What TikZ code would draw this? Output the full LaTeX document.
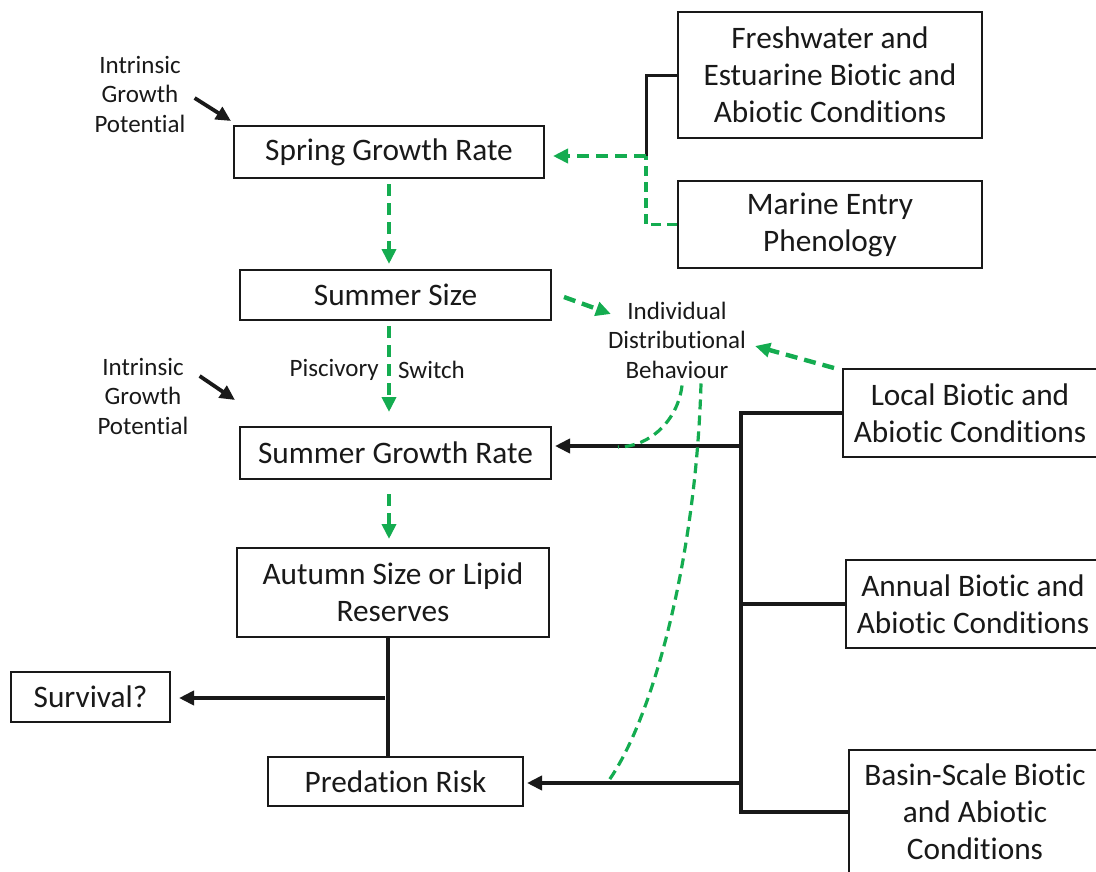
\documentclass[tikz,border=0pt]{standalone}
\usepackage{fontspec}
\setmainfont{Carlito}[Ligatures=NoCommon]
\usetikzlibrary{arrows.meta,calc}
\definecolor{leafgreen}{RGB}{20,172,80}
\definecolor{ink}{RGB}{25,25,25}

\begin{document}
\begin{tikzpicture}[x=1pt,y=-1pt,>={Triangle[length=15pt,width=14pt]},
	box/.style={draw=ink, line width=2pt, align=center, inner sep=0pt, text=ink,
		font=\fontsize{31.3}{37}\selectfont},
	lbl/.style={align=center, inner sep=0pt, text=ink, font=\fontsize{25}{29.5}\selectfont},
	link/.style={draw=ink, line width=3.8pt},
	grn/.style={draw=leafgreen, line width=4.4pt, dash pattern=on 12pt off 7pt},
	grnthin/.style={draw=leafgreen, line width=3.2pt, dash pattern=on 10pt off 6pt}]
	
	\useasboundingbox (0,0) rectangle (1096,871);
	\clip (0,0) rectangle (1096,871);
	
	% --- Growth and size chain (left column)
	\node[box, minimum width=310, minimum height=52] (spring) at (389,152) {Spring Growth Rate};
	\node[box, minimum width=311, minimum height=50] (ssize) at (395.5,295) {Summer Size};
	\node[box, minimum width=311, minimum height=52] (sgrowth) at (395.5,453) {Summer Growth Rate};
	\node[box, minimum width=312, minimum height=89] (autumn) at (393,592.5) {Autumn Size or Lipid\\Reserves};
	\node[box, minimum width=255, minimum height=49] (predation) at (395.5,781.5) {Predation Risk};
	\node[box, minimum width=159, minimum height=50] (survival) at (90.5,697) {Survival?};
	
	% --- Conditions (right column)
	\node[box, minimum width=304, minimum height=126] (fresh) at (830,75) {Freshwater and\\Estuarine Biotic and\\Abiotic Conditions};
	\node[box, minimum width=304, minimum height=87] (marine) at (830,224.5) {Marine Entry\\Phenology};
	\node[box, minimum width=254, minimum height=88] (local) at (970,413) {Local Biotic and\\Abiotic Conditions};
	\node[box, minimum width=254, minimum height=88] (annual) at (973,604) {Annual Biotic and\\Abiotic Conditions};
	\node[box, minimum width=252, minimum height=124] (basin) at (975,812) {Basin-Scale Biotic\\and Abiotic\\Conditions};
	
	% --- Free labels
	\node[lbl] (intrA) at (140,94) {Intrinsic\\Growth\\Potential};
	\node[lbl] (intrB) at (143,396) {Intrinsic\\Growth\\Potential};
	\node[lbl, anchor=east] (pisc) at (379,370) {Piscivory};
	\node[lbl, anchor=west] (switch) at (398,370) {Switch};
	\node[lbl] (idb) at (677,340) {Individual\\Distributional\\Behaviour};
	
	% --- Intrinsic growth potential arrows
	\draw[link, ->] ($(intrA.east)+(9,4)$) -- ($(spring.north west)+(-2,-4)$);
	\draw[link, ->] ($(intrB.east)+(11,-20)$) -- ($(sgrowth.north west)+(-4,-26)$);
	
	% --- Green chain down the left column
	\draw[grn, ->, shorten <=5pt, shorten >=5pt] (spring.south) -- (spring.south |- ssize.north);
	\draw[grn, ->, shorten <=5pt, shorten >=14pt] (spring.south |- ssize.south) -- (spring.south |- sgrowth.north);
	\draw[grn, ->, shorten <=14pt, shorten >=8pt] (spring.south |- sgrowth.south) -- (spring.south |- autumn.north);
	
	% --- Freshwater / marine entry feeding spring growth
	\coordinate (fj) at (646,156);
	\draw[link, line width=3pt] (fresh.west) -| (fj);
	\draw[grnthin] (marine.west) -| (fj);
	\draw[grn, ->, shorten >=8pt] (fj) -- (spring.east |- fj);
	
	% --- Individual distributional behaviour
	\draw[grn, ->] ($(ssize.east)+(12,2)$) -- ($(idb.west)+(3,-26)$);
	\draw[grn, ->] ($(local.north west)+(-8,0)$) -- ($(idb.east)+(9,6)$);
	
	% --- Bus from the condition boxes
	\coordinate (busSG) at (741,446);
	\coordinate (busPR) at (741,783);
	\draw[link, line join=miter] (local.west) -| (741,812) -- (basin.west);
	\draw[link] (annual.west) -- (741,604);
	\draw[link, ->, shorten >=3pt] (busSG) -- (sgrowth.east |- busSG);
	\draw[link, ->, shorten >=3pt] (busPR) -- (predation.east |- busPR);
	
	% --- Autumn reserves to predation risk and survival
	\coordinate (sj) at (385,698);
	\draw[link] ($(autumn.south)+(-5,0)$) -- ($(predation.north)+(-7.5,0)$);
	\draw[link, ->, shorten >=8pt] (sj) -- (survival.east |- sj);
	
	% --- Behaviour modifying growth and predation
	\coordinate (cgrow) at (618,447);
	\coordinate (cpred) at (607,783);
	\draw[grnthin] ($(idb.south)+(5,7)$) .. controls (678,420) and (650,447) .. (cgrow);
	\draw[grnthin] ($(idb.south)+(24,5)$) .. controls (696,560) and (652,722) .. (cpred);
	
\end{tikzpicture}
\end{document}
